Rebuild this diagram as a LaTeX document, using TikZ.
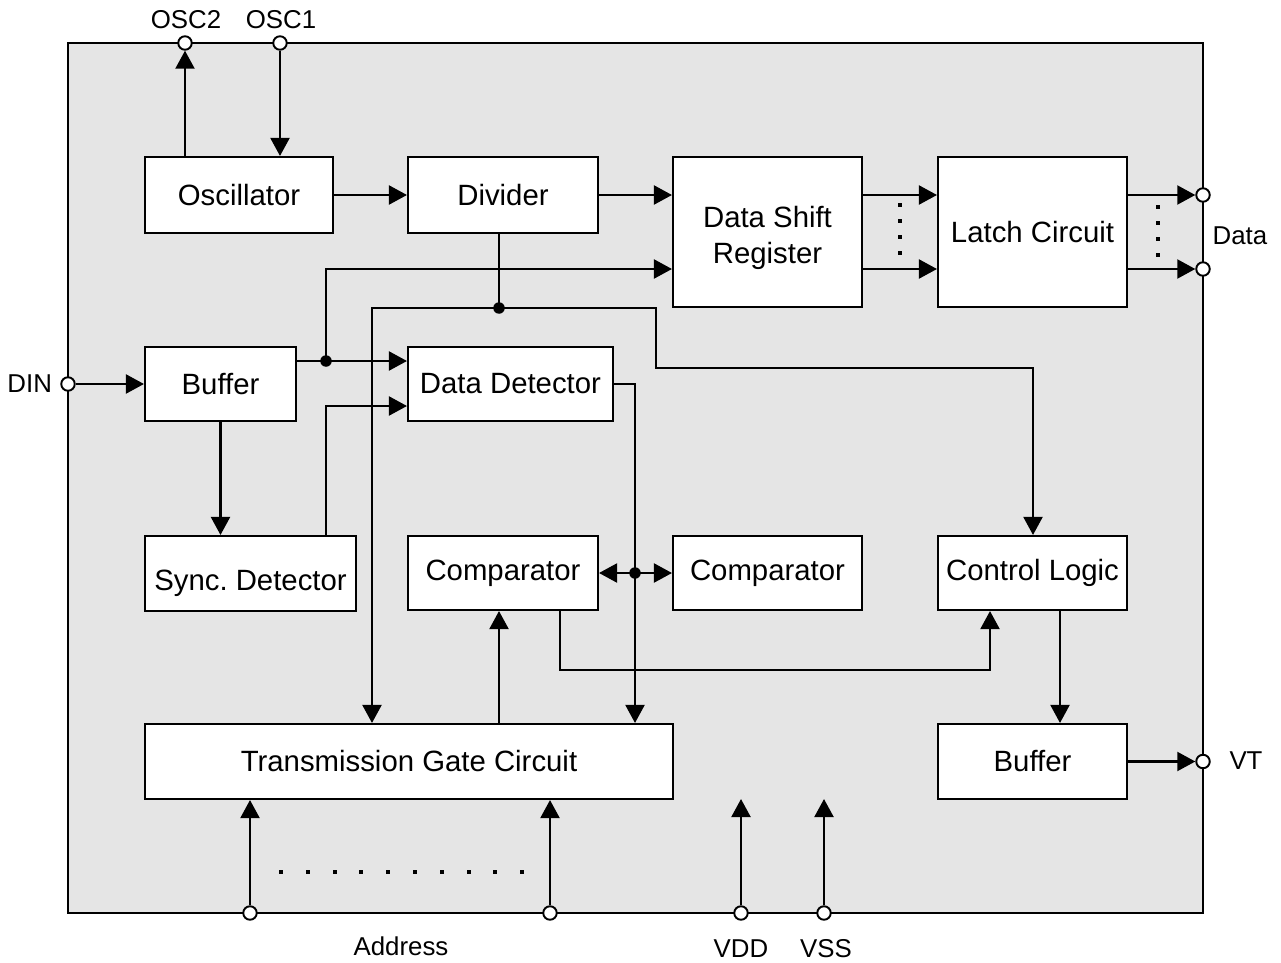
\documentclass[tikz,border=0pt]{standalone}
\usepackage{fontspec}
\setmainfont{Liberation Sans}
\usetikzlibrary{arrows.meta,calc}
\begin{document}
\begin{tikzpicture}[x=0.02cm,y=-0.02cm,
  line width=1.2pt,
  box/.style={draw,fill=white,rectangle,inner sep=0pt,align=center,font=\fontsize{16.7}{20.5}\selectfont},
  pinc/.style={draw,fill=white,circle,inner sep=0pt,minimum size=0.27cm,line width=1.1pt},
  jdot/.style={fill=black,circle,inner sep=0pt,minimum size=0.23cm},
  lbl/.style={font=\fontsize{14.7}{17}\selectfont,inner sep=0pt},
  arr/.style={-{Triangle[length=0.36cm,width=0.38cm]}},
  smalldot/.style={fill=black,inner sep=0pt,minimum size=2.3pt,rectangle}
]
\useasboundingbox (0,0) rectangle (1281,963);
% outer chip
\draw[fill=black!10] (68,43) rectangle (1203,913);

% blocks
\node[box,minimum width=3.76cm,minimum height=1.52cm] (osc) at (239,195) {Oscillator};
\node[box,minimum width=3.8cm,minimum height=1.52cm] (div) at (503,195) {Divider};
\node[box,minimum width=3.78cm,minimum height=3.0cm] (dsr) at (767.5,232) {\rule{0pt}{19pt}Data Shift\\Register};
\node[box,minimum width=3.78cm,minimum height=3.0cm] (latch) at (1032.5,232) {Latch Circuit};
\node[box,minimum width=3.02cm,minimum height=1.48cm] (buf) at (220.5,384) {Buffer};
\node[box,minimum width=4.1cm,minimum height=1.48cm] (dd) at (510.5,384) {Data Detector};
\node[box,minimum width=4.22cm,minimum height=1.5cm] (sync) at (250.5,573.5) {\raisebox{0pt}[23pt][3.5pt]{Sync.\ Detector}};
\node[box,minimum width=3.8cm,minimum height=1.48cm] (cmpa) at (503,573) {Comparator};
\node[box,minimum width=3.78cm,minimum height=1.48cm] (cmpb) at (767.5,573) {Comparator};
\node[box,minimum width=3.78cm,minimum height=1.48cm] (ctrl) at (1032.5,573) {Control Logic};
\node[box,minimum width=10.56cm,minimum height=1.5cm] (tgc) at (409,761.5) {Transmission Gate Circuit};
\node[box,minimum width=3.78cm,minimum height=1.5cm] (bufb) at (1032.5,761.5) {Buffer};

% helper coordinates
\coordinate (r1) at (0,195);
\coordinate (r2) at (0,269);
\coordinate (r3) at (0,361);
\coordinate (r4) at (0,406);
\coordinate (x326) at (326,0);
\coordinate (x372) at (372,0);
\coordinate (x499) at (499,0);
\coordinate (x560) at (560,0);
\coordinate (x635) at (635,0);
\coordinate (x1060) at (1060,0);
\coordinate (k1) at (656,368);
\coordinate (k2) at (1033,368);
\coordinate (k3) at (990,670);
\coordinate (vddt) at (741,799);
\coordinate (vsst) at (824,799);

% junctions
\node[jdot] (j1) at (326,361) {};
\node[jdot] (j2) at (499,308) {};
\node[jdot] (j3) at (635,573) {};

% pins
\node[pinc] (osc2) at (185,43) {};
\node[pinc] (osc1) at (280,43) {};
\node[pinc] (din) at (68,384) {};
\node[pinc] (da) at (1203,195) {};
\node[pinc] (db) at (1203,269) {};
\node[pinc] (vt) at (1203,761.5) {};
\node[pinc] (ad1) at (250,913) {};
\node[pinc] (ad2) at (550,913) {};
\node[pinc] (vdd) at (741,913) {};
\node[pinc] (vss) at (824,913) {};

% labels
\node[lbl] at (186,20) {OSC2};
\node[lbl] at (281,20) {OSC1};
\node[lbl,anchor=east] at (53,384) {DIN};
\node[lbl] at (1240,236) {Data};
\node[lbl] at (1246,761) {VT};
\node[lbl] at (401,946) {Address};
\node[lbl] at (741,949) {VDD};
\node[lbl] at (826,949) {VSS};

% connectors
\draw[arr] (osc.north -| osc2) -- (osc2.south);
\draw[arr] (osc1.south) -- (osc.north -| osc1);
\draw[arr] (osc.east) -- (div.west);
\draw[arr] (div.east) -- (dsr.west |- div.east);
\draw[arr] (dsr.east |- r1) -- (latch.west |- r1);
\draw[arr] (dsr.east |- r2) -- (latch.west |- r2);
\draw[arr] (latch.east |- r1) -- (da.west);
\draw[arr] (latch.east |- r2) -- (db.west);
\draw[arr] (din.east) -- (buf.west);
\draw[arr] (buf.east |- r3) -- (dd.west |- r3);
\draw[arr] (j1.center) |- (dsr.west |- r2);
\draw[arr] (buf.south) -- (sync.north -| buf.south);
\draw[arr] (sync.north -| x326) |- (dd.west |- r4);
\draw (div.south -| j2) -- (j2.center);
\draw[arr] (j2.center) -| (tgc.north -| x372);
\draw[arr] (j2.center) -| (k1) -- (k2) -- (ctrl.north -| k2);
\draw[arr] (dd.east) -| (tgc.north -| x635);
\draw[arr] (j3.center) -- (cmpa.east);
\draw[arr] (j3.center) -- (cmpb.west);
\draw[arr] (tgc.north -| x499) -- (cmpa.south -| x499);
\draw[arr] (cmpa.south -| x560) |- (k3) -- (ctrl.south -| k3);
\draw[arr] (ctrl.south -| x1060) -- (bufb.north -| x1060);
\draw[arr] (bufb.east) -- (vt.west);
\draw[arr] (ad1.north) -- (tgc.south -| ad1);
\draw[arr] (ad2.north) -- (tgc.south -| ad2);
\draw[arr] (vdd.north) -- (vddt);
\draw[arr] (vss.north) -- (vsst);

% ellipsis dots
\foreach \yy in {205,221,237,253} \node[smalldot] at (900,\yy) {};
\foreach \yy in {207,223,239,255} \node[smalldot] at (1158,\yy) {};
\foreach \i in {0,...,9} \node[smalldot] at (281+26.8*\i,872) {};
\end{tikzpicture}
\end{document}
